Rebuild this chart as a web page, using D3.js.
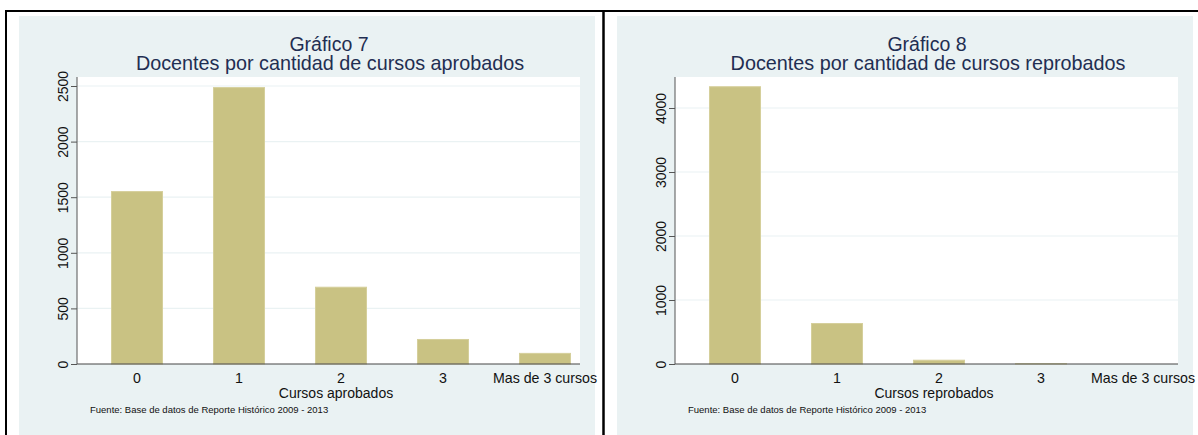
<!DOCTYPE html>
<html><head><meta charset="utf-8">
<script src="https://cdn.jsdelivr.net/npm/d3@7"></script>
<style>
html,body{margin:0;padding:0;background:#fff;}
svg{display:block;font-family:"Liberation Sans",Arial,sans-serif;}
</style></head>
<body>
<svg id="c" width="1198" height="435"></svg>
<script>
const categories = ["0", "1", "2", "3", "Mas de 3 cursos"];
const aprobados = [1555, 2490, 695, 225, 100];
const reprobados = [4340, 640, 67, 12, 6];
const ticksAprobados = [0, 500, 1000, 1500, 2000, 2500];
const ticksReprobados = [0, 1000, 2000, 3000, 4000];

const charts = [
  {title1: "Gráfico 7", title2: "Docentes por cantidad de cursos aprobados",
   xTitle: "Cursos aprobados", values: aprobados, ticks: ticksAprobados, yMax: 2500, yTop: 86},
  {title1: "Gráfico 8", title2: "Docentes por cantidad de cursos reprobados",
   xTitle: "Cursos reprobados", values: reprobados, ticks: ticksReprobados, yMax: 4000, yTop: 108}
];

const svg = d3.select("#c");
const BG = "#eaf2f3", BAR = "#c9c283", BAR_EDGE = "#d5cf9b";
const source = "Fuente: Base de datos de Reporte Histórico 2009 - 2013";

charts.forEach((c, i) => {
  const ox = i * 598;
  const g = svg.append("g").attr("transform", `translate(${ox},0)`);
  g.append("rect").attr("x", 19).attr("y", 16).attr("width", 576).attr("height", 419).attr("fill", BG);
  const px0 = 77, px1 = 580, py0 = 77, py1 = 364;
  g.append("rect").attr("x", px0).attr("y", py0).attr("width", px1 - px0).attr("height", py1 - py0).attr("fill", "#fff");

  const x = d3.scaleBand().domain(categories).range([86, 596]).paddingInner(0.49).paddingOuter(0.245);
  const y = d3.scaleLinear().domain([0, c.yMax]).range([py1, c.yTop]);

  g.append("g").selectAll("line").data(c.ticks.filter(t => t > 0)).join("line")
    .attr("x1", px0).attr("x2", px1).attr("y1", d => y(d)).attr("y2", d => y(d))
    .attr("stroke", BG).attr("stroke-width", 1.2);

  g.append("g").selectAll("rect").data(c.values).join("rect")
    .attr("x", (d, j) => x(categories[j]) + 0.5)
    .attr("width", x.bandwidth() - 1)
    .attr("y", d => y(d) + 0.5)
    .attr("height", d => Math.max(0, py1 - y(d) - 0.5))
    .attr("fill", BAR).attr("stroke", BAR_EDGE).attr("stroke-width", 1);

  const yAxis = d3.axisLeft(y).tickValues(c.ticks).tickSize(6).tickPadding(3).tickFormat(d3.format("d"));
  const ya = g.append("g").attr("transform", `translate(${px0},0)`).call(yAxis);
  ya.select(".domain").attr("d", `M0,${py0}V${py1}`).attr("stroke", "#555");
  ya.selectAll(".tick line").attr("stroke", "#555");
  ya.selectAll(".tick text")
    .attr("font-size", 14).attr("fill", "#111")
    .attr("text-anchor", "middle").attr("x", null).attr("dy", null)
    .attr("transform", "translate(-9,0) rotate(-90)");

  const xAxis = d3.axisBottom(x).tickSize(0).tickPadding(9);
  const xa = g.append("g").attr("transform", `translate(0,${py1})`).call(xAxis);
  xa.select(".domain").attr("d", `M${px0},0H${px1}`).attr("stroke", "#444");
  xa.selectAll(".tick text").attr("font-size", 14.2).attr("fill", "#111");

  g.append("text").attr("x", 329).attr("y", 50.5).attr("text-anchor", "middle")
    .attr("font-size", 19.5).attr("fill", "#1f2e52").text(c.title1);
  g.append("text").attr("x", 330).attr("y", 70).attr("text-anchor", "middle")
    .attr("font-size", 19.8).attr("fill", "#1f2e52").text(c.title2);
  g.append("text").attr("x", 336).attr("y", 398).attr("text-anchor", "middle")
    .attr("font-size", 14).attr("fill", "#111").text(c.xTitle);
  g.append("text").attr("x", 90).attr("y", 413)
    .attr("font-size", 9.5).attr("fill", "#111").text(source);
});

svg.append("line").attr("x1", 5).attr("x2", 1198).attr("y1", 11).attr("y2", 11).attr("stroke", "#000").attr("stroke-width", 2);
svg.append("line").attr("x1", 6).attr("x2", 6).attr("y1", 10).attr("y2", 435).attr("stroke", "#000").attr("stroke-width", 2);
svg.append("line").attr("x1", 603.5).attr("x2", 603.5).attr("y1", 10).attr("y2", 435).attr("stroke", "#000").attr("stroke-width", 2.5);
</script>
</body></html>
